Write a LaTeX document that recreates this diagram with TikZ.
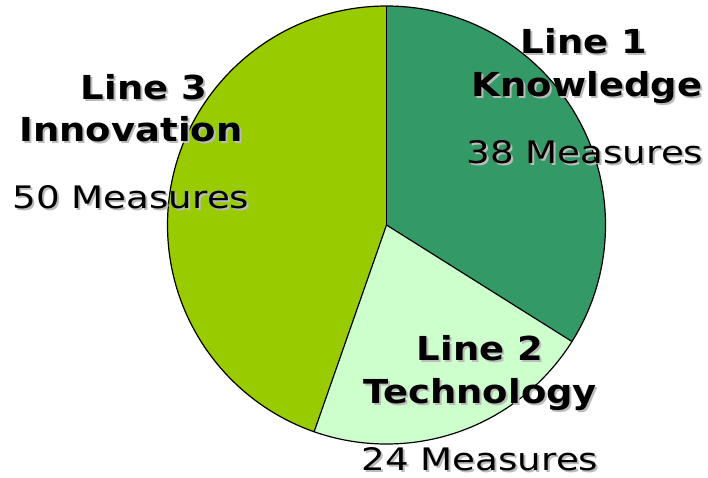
\documentclass[tikz,border=0pt]{standalone}
\usepackage{fontspec}
\usepackage{graphicx}
\setmainfont{DejaVu Sans}
\definecolor{knc}{HTML}{339966}
\definecolor{tec}{HTML}{CCFFCC}
\definecolor{inc}{HTML}{99CC00}
\definecolor{shd}{HTML}{BBBBBB}
\newcommand{\hbx}[1]{\scalebox{1.12}[1]{#1}}
\newcommand{\msx}[1]{\scalebox{1.2}[1]{#1}}
\tikzset{
  slice/.style={draw=black,line width=1.2pt},
  hd/.style={font=\fontsize{33}{36}\selectfont\bfseries,inner sep=0pt,anchor=base,text depth=0pt},
  ms/.style={font=\fontsize{31}{36}\selectfont,inner sep=0pt,anchor=base,text depth=0pt},
  sh/.style={text=shd}
}
\begin{document}
\begin{tikzpicture}[x=1pt,y=-1pt]
\useasboundingbox (0,0) rectangle (708,477);
\coordinate (c) at (386.5,225);
\def\R{219}
\fill[knc] (c) -- ++(-90:\R) arc[start angle=-90,end angle=32.14,radius=\R] -- cycle;
\fill[tec] (c) -- ++(32.14:\R) arc[start angle=32.14,end angle=109.29,radius=\R] -- cycle;
\fill[inc] (c) -- ++(109.29:\R) arc[start angle=109.29,end angle=270,radius=\R] -- cycle;
\draw[slice] (c) -- ++(-90:\R);
\draw[slice] (c) -- ++(32.14:\R);
\draw[slice] (c) -- ++(109.29:\R);
\draw[slice] (c) circle[radius=\R];
% Line 1
\node[hd,sh] (a1s) at (586,55) {\hbx{Line 1}};
\node[hd] (a1) at (584,53) {\hbx{Line 1}};
\node[hd,sh] (b1s) at (589,98) {\hbx{Knowledge}};
\node[hd] (b1) at (587,96) {\hbx{Knowledge}};
\node[ms,sh] (c1s) at (587,165) {\msx{38 Measures}};
\node[ms] (c1) at (585,163) {\msx{38 Measures}};
% Line 3
\node[hd,sh] (a3s) at (146,101) {\hbx{Line 3}};
\node[hd] (a3) at (144,99) {\hbx{Line 3}};
\node[hd,sh] (b3s) at (133,143) {\hbx{Innovation}};
\node[hd] (b3) at (131,141) {\hbx{Innovation}};
\node[ms,sh] (c3s) at (133,210) {\msx{50 Measures}};
\node[ms] (c3) at (131,208) {\msx{50 Measures}};
% Line 2
\node[hd,sh] (a2s) at (482,362) {\hbx{Line 2}};
\node[hd] (a2) at (480,360) {\hbx{Line 2}};
\node[hd,sh] (b2s) at (482,405) {\hbx{Technology}};
\node[hd] (b2) at (480,403) {\hbx{Technology}};
\node[ms,sh] (c2s) at (482,472) {\msx{24 Measures}};
\node[ms] (c2) at (480,470) {\msx{24 Measures}};
\end{tikzpicture}
\end{document}
